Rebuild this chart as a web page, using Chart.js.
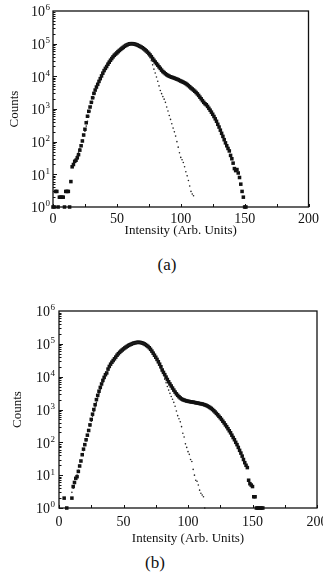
<!DOCTYPE html>
<html><head><meta charset="utf-8">
<script src="https://cdn.jsdelivr.net/npm/chart.js@4.4.1/dist/chart.umd.min.js"></script>
<style>
html,body{margin:0;padding:0;background:#fff;width:323px;height:582px;overflow:hidden;position:relative}
canvas{position:absolute;left:0}
.cap{position:absolute;font-family:'Liberation Serif',serif;font-size:17px;color:#111;transform:translateX(-50%);line-height:20px}
</style></head><body>
<canvas id="ca" width="323" height="250" style="top:0;width:323px;height:250px"></canvas>
<canvas id="cb" width="340" height="260" style="top:290px;width:340px;height:260px"></canvas>
<div class="cap" style="left:167px;top:255px">(a)</div>
<div class="cap" style="left:155px;top:553px">(b)</div>
<script>
// ---- data: counts per intensity bin ----
const aDataStart = 0;
const aData = [1,1,3,3,1,2,2,2,2,1,3,3,3,1,
 6,17,20,25,27,32,40,55,75,105,160,240,380,600,850,1150,1600,2200,3000,3800,4700,5700,7000,8500,10300,12500,
 15000,17500,20000,23500,27000,31000,35000,39500,44000,48000,52000,57000,62000,67000,72000,77000,83000,88000,92000,96000,
 99000,100000,100000,99000,97000,94000,91000,87000,83000,79000,75000,70000,65000,60000,55000,50000,45000,40000,35000,31000,
 27500,24500,22000,19500,17500,15500,14000,13000,12000,11200,10600,10100,9700,9400,9100,8800,8500,8200,7900,7500,
 7200,6900,6600,6300,6000,5600,5200,4800,4400,4100,3800,3500,3200,2900,2600,2300,2050,1800,1600,1450,
 1350,1200,1050,920,800,690,590,500,420,340,280,225,180,145,115,92,75,62,52,38,
 30,22,15,13,14,11,8,5,3,2,1,1];
const aFitStart = 18;
const aFit = [30,38,48,62,80,110,150,210,300,420,600,850,1200,1650,2200,3000,4000,5200,6700,8400,10500,13000,
 15500,18500,22000,26000,30000,34500,39000,44000,49000,54000,59000,64000,69000,74000,79000,84000,88000,92000,95000,97500,99000,
 100000,99500,98500,97000,95000,92000,88000,84000,78000,72000,67000,61000,55000,49000,43500,38000,30000,22500,16600,
 12600,9500,7100,5100,3700,2950,2400,2000,1600,1150,870,630,480,355,260,200,148,100,68,46,
 33,28,23,17,12,9,6.5,4.4,3,2.5,2.2];

const bDataStart = 4;
const bData = [2,null,1,null,null,null,
 2,4.5,6,8,9,13,19,27,42,62,85,120,165,230,340,500,720,1000,1400,2000,2700,3600,4700,6000,7700,9500,11500,13000,
 17000,20500,24000,27500,31000,35000,39500,45000,50000,55000,60000,65000,70000,75000,80000,85000,90000,94000,98000,102000,105000,108000,
 110000,111000,111000,110000,108000,105000,100000,95000,89000,83000,76000,68000,60000,52000,45000,39000,33500,28500,24000,20000,
 16000,13500,11500,9700,8200,7000,6000,5200,4500,3900,3400,3000,2700,2450,2250,2100,2000,1930,1870,1820,
 1780,1750,1720,1700,1670,1640,1610,1580,1550,1520,1500,1470,1430,1390,1340,1280,1220,1150,1080,1000,
 920,840,760,690,620,560,500,440,390,340,300,260,225,195,165,140,120,100,85,70,
 57,47,38,30,24,20,17,7,5.5,5,4.5,2.2,2.2,1,1,1,1,1,1];
const bFitStart = 10;
const bFit = [3,4,5.5,7.5,10,14,20,28,40,56,80,110,155,220,310,440,620,870,1200,1650,2250,3000,4000,5200,6700,8500,10600,13000,15700,18700,
 22000,25500,29500,33500,38000,43000,48000,53000,58500,64000,69500,75000,80500,85500,90000,94000,98000,101500,104500,107000,
 109000,110000,110000,109000,107000,104000,100000,95000,89000,82000,75000,67000,59000,51000,44000,37500,31500,26000,21500,17500,
 14000,11000,8400,6500,5000,3900,3100,2500,2050,1650,1250,900,650,520,420,300,190,145,90,70,
 52,43,30,26,15,10,7,6.5,5,3.5,2.8,2.5,2.2,1];

const xLabelTicks = [0,50,100,150,200];
const xMinorTicks = [0,25,50,75,100,125,150,175,200];
const yLabelTicks = [1,10,100,1000,10000,100000,1000000];
const yMantissas = [1,2,3,4,5,6,7,8,9];
const xTitle = 'Intensity (Arb. Units)';
const yTitle = 'Counts';

const FAMILY = "'Liberation Serif', 'Times New Roman', serif";
const FONT = {family:FAMILY, size:13};
const TICKFONT = {family:FAMILY, size:14};
const INK = '#111';

const framePlugin = {
  id:'frame',
  afterDraw(chart, args, opts){
    const {ctx, chartArea:a, scales:{x,y}} = chart;
    ctx.save();
    ctx.strokeStyle = INK; ctx.lineWidth = 1.3;
    ctx.strokeRect(a.left, a.top, a.right-a.left, a.bottom-a.top);
    ctx.lineWidth = 1;
    ctx.beginPath();
    for (const p of yLabelTicks.slice(0,-1)) {
      for (const m of yMantissas) {
        const py = Math.round(y.getPixelForValue(p*m))+0.5;
        const len = m===1 ? 4 : 2.5;
        ctx.moveTo(a.left, py); ctx.lineTo(a.left+len, py);
      }
    }
    for (const v of xMinorTicks) {
      const px = Math.round(x.getPixelForValue(v))+0.5;
      ctx.moveTo(px, a.bottom); ctx.lineTo(px, a.bottom-3);
    }
    ctx.stroke();
    // y tick labels: 10 with superscript exponent
    ctx.fillStyle = INK;
    ctx.textBaseline = 'middle';
    for (const v of yLabelTicks) {
      const py = y.getPixelForValue(v);
      const e = Math.round(Math.log10(v));
      const rx = a.left - opts.gap;
      ctx.font = `14px ${FAMILY}`;
      ctx.textAlign = 'right';
      ctx.fillText('10', rx, py + 1.5);
      ctx.font = `9px ${FAMILY}`;
      ctx.textAlign = 'left';
      ctx.fillText(String(e), rx + 0.5, py - 3);
    }
    ctx.restore();
  }
};

function pts(start, arr){
  return arr.map((v,i)=>({x:start+i, y:v})).filter(p=>p.y!==null);
}

function build(id, dStart, data, fStart, fit, g){
  new Chart(document.getElementById(id), {
    type:'scatter',
    data:{datasets:[
      {data:pts(fStart, fit), pointStyle:'circle', pointRadius:0.8, backgroundColor:'#222', borderWidth:0, clip:false},
      {data:pts(dStart, data), pointStyle:'rect', pointRadius:2.5, backgroundColor:INK, borderWidth:0, clip:false}
    ]},
    options:{
      responsive:false, animation:false, devicePixelRatio:1,
      layout:{padding:{left:0, top:g.top, right:g.right, bottom:0}},
      plugins:{legend:{display:false}, tooltip:{enabled:false}, frame:{gap:g.gap}},
      scales:{
        x:{type:'linear', min:0, max:200,
           afterBuildTicks:s=>{s.ticks = xLabelTicks.map(v=>({value:v}));},
           ticks:{font:TICKFONT, color:INK, padding:g.xpad, maxRotation:0, autoSkip:false},
           grid:{display:false, drawTicks:false}, border:{display:false},
           title:{display:true, text:xTitle, font:FONT, color:INK, padding:{top:0, bottom:g.xtb}},
           afterFit:s=>{s.height = g.xh;}},
        y:{type:'logarithmic', min:1, max:1e6,
           afterBuildTicks:s=>{s.ticks = yLabelTicks.map(v=>({value:v}));},
           ticks:{display:false},
           grid:{display:false, drawTicks:false}, border:{display:false},
           title:{display:true, text:yTitle, font:FONT, color:INK, padding:{top:g.ytp, bottom:0}},
           afterFit:s=>{s.width = g.yw;}}
      }
    },
    plugins:[framePlugin]
  });
}

build('ca', aDataStart, aData, aFitStart, aFit, {top:11, right:12, xh:43, xpad:4, xtb:12, ytp:7, yw:53, gap:8});
build('cb', bDataStart, bData, bFitStart, bFit, {top:21, right:23, xh:42, xpad:6, xtb:4, ytp:10, yw:59, gap:9});
</script>
</body></html>
